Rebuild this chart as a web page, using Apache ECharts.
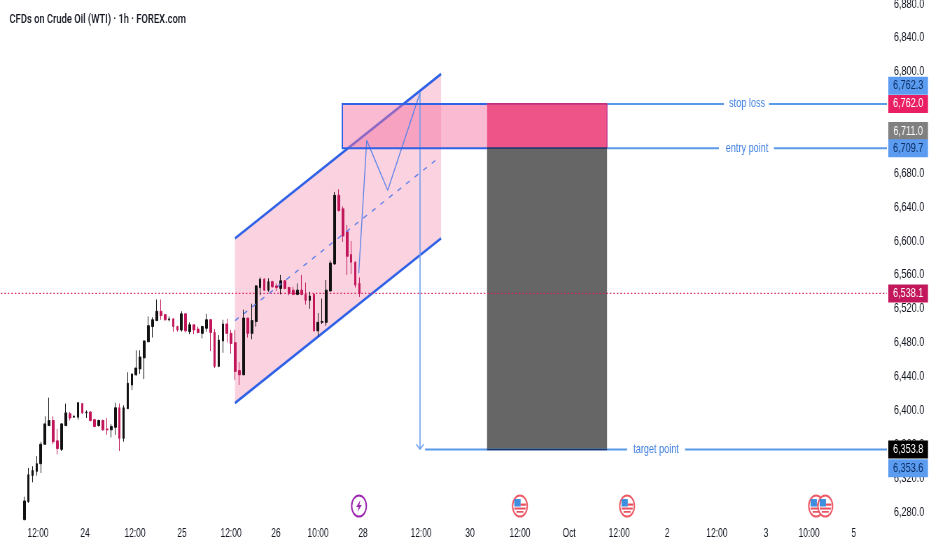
<!DOCTYPE html>
<html><head><meta charset="utf-8">
<style>html,body{margin:0;padding:0;background:#fff;overflow:hidden;width:932px;height:550px}
#c{width:1332px;height:550px;transform:scaleX(0.7);transform-origin:0 0}</style>
<script src="https://cdn.jsdelivr.net/npm/echarts@6/dist/echarts.min.js"></script>
</head><body><div id="c"></div>
<script>
const titleText = 'CFDs on Crude Oil (WTI) · 1h · FOREX.com';
// [open, close, low, high] per hourly candle
const candles = [
[6271,6293,6270,6298],[6292,6324,6291,6332],[6323,6329,6315,6334],[6328,6337,6323,6346],[6337,6360,6326,6363],
[6360,6384,6359,6393],[6382,6388,6382,6415],[6388,6363,6360,6393],[6364,6355,6348,6378],[6354,6384,6352,6385],
[6382,6397,6382,6408],[6396,6391,6388,6398],[6392,6393,6392,6394],[6392,6409,6389,6410],[6408,6397,6396,6408],
[6397,6398,6391,6400],[6398,6388,6387,6399],[6389,6381,6380,6390],[6382,6388,6381,6389],[6388,6377,6376,6389],
[6378,6377,6371,6391],[6377,6381,6368,6384],[6380,6403,6371,6409],[6403,6367,6352,6408],[6367,6403,6363,6406],
[6402,6432,6402,6445],[6430,6443,6424,6443],[6442,6450,6441,6471],[6449,6463,6443,6471],[6462,6482,6437,6482],
[6481,6500,6481,6511],[6499,6507,6486,6510],[6506,6517,6506,6531],[6517,6512,6507,6531],[6513,6507,6506,6514],
[6507,6508,6505,6511],[6508,6499,6493,6509],[6499,6495,6493,6500],[6495,6514,6493,6517],[6514,6494,6492,6515],
[6493,6501,6490,6504],[6501,6495,6490,6501],[6496,6492,6491,6499],[6491,6499,6485,6500],[6497,6507,6493,6514],
[6507,6492,6470,6508],[6492,6452,6450,6496],[6452,6483,6451,6489],[6482,6502,6468,6507],[6502,6491,6480,6508],
[6491,6479,6467,6495],[6480,6446,6436,6495],[6447,6442,6430,6457],[6442,6509,6442,6519],[6509,6491,6486,6509],
[6491,6506,6484,6526],[6505,6547,6499,6548],[6545,6555,6536,6557],[6555,6542,6541,6556],[6542,6552,6540,6556],
[6552,6546,6545,6553],[6547,6545,6541,6550],[6544,6553,6537,6560],[6553,6544,6543,6554],[6545,6538,6536,6546],
[6542,6537,6536,6546],[6537,6542,6536,6550],[6542,6537,6536,6560],[6537,6530,6525,6551],[6530,6535,6520,6540],
[6537,6494,6493,6538],[6494,6504,6487,6515],[6504,6505,6502,6532],[6504,6542,6500,6554],[6541,6574,6541,6577],
[6573,6654,6572,6658],[6654,6636,6635,6661],[6638,6606,6599,6641],[6611,6582,6560,6619],[6584,6575,6561,6600],
[6575,6548,6545,6576],[6550,6538,6534,6557]];
const leadingSlots = 6;     // empty slots left of the first candle
const totalSlots = 215;
const priceTicks = [6280,6320,6360,6400,6440,6480,6520,6560,6600,6640,6680,6720,6760,6800,6840,6880];
const timeSlots  = [9.81,21.18,33.26,44.62,56.47,67.34,77.5,88.37,102.4,114.24,126.3,138.2,150.3,161.9,173.9,185.8,196.2,207];
const timeLabels = ['12:00','24','12:00','25','12:00','26','10:00','28','12:00','30','12:00','Oct','12:00','2','12:00','3','10:00','5'];
const lastPrice = 6538.1;
const channelUpper = [[57.43,6603.2],[107.23,6797.3]];
const channelLower = [[57.43,6408.7],[107.23,6603.2]];
const channelMid   = [[57.43,6506],[106.6,6698]];
const zigzag = [[87.34,6562],[89.27,6719],[94.34,6660],[102.15,6775]];
const arrowShaft = [[102.15,6776],[102.15,6354]];
const arrowHead  = [[101.25,6360],[102.15,6354],[103.05,6360]];
const entryBox = {x0:83.37,x1:118.35,top:6762,bottom:6709.7};
const riskBox  = {x0:118.35,x1:147.35,top:6762,bottom:6709.7};
const rewardBox= {x0:118.35,x1:147.35,top:6709.7,bottom:6353.8};
const stopLine = [[147.35,6762],[175.6,6762]], stopLine2 = [[186.5,6762],[215,6762]];
const entryLine= [[147.35,6709.7],[174.4,6709.7]], entryLine2=[[187.7,6709.7],[215,6709.7]];
const targetLine=[[103.36,6353.8],[152.2,6353.8]], targetLine2=[[166.2,6353.8],[215,6353.8]];
const noteNames = ['stop loss','entry point','target point'];
const noteSlots = [181.2,181.2,159.2];
const notePrices= [6762,6709.7,6353.8];
const tagTexts = ['6,762.3','6,762.0','6,711.0','6,709.7','6,538.1','6,353.8','6,353.6'];
const tagPrices= [6762.3,6762,6711,6709.7,6538.1,6353.8,6353.6];
const tagShifts= [-18,0,-16,0,0,0,18.5];
const tagFills = ['#5b9cf0','#e91e63','#808080','#5b9cf0','#c2185b','#000000','#5b9cf0'];
const tagInks  = ['#0c2f66','#ffffff','#ffffff','#0c2f66','#ffffff','#ffffff','#0c2f66'];
const eventSlots = [87.4,126.3,152.2,197.9,200.1];
const eventKinds = ['bolt','flag','flag','flag','flag'];
const eventPrice = 6287;

const BLUE='#2f62e6', LINE='#5b9ae8', FONT='"Liberation Sans",Arial,sans-serif';
const chart = echarts.init(document.getElementById('c'),null,{renderer:'canvas',width:1332,height:550});
const cats = Array.from({length:totalSlots},(_,i)=>String(i));
const bars = Array.from({length:leadingSlots},()=>'-').concat(candles);
const line=(data,color,width,type,z)=>({type:'line',xAxisIndex:1,yAxisIndex:0,data,symbol:'none',silent:true,clip:false,z:z||6,
  lineStyle:{color,width,type:type||'solid'},animation:false});
const boxItem=(api,b,style)=>{const p=api.coord([b.x0,b.top]),q=api.coord([b.x1,b.bottom]);
  return {type:'rect',shape:{x:p[0],y:p[1],width:q[0]-p[0],height:q[1]-p[1]},style};};
const overlay=(z,renderItem)=>({type:'custom',xAxisIndex:1,yAxisIndex:0,z,clip:false,silent:true,animation:false,data:[[0,0]],renderItem});
const flagIcon=(x,y)=>({type:'group',x,y,children:[
  {type:'circle',shape:{cx:0,cy:0,r:10.5},style:{fill:'#fff',stroke:'#ee5a66',lineWidth:2}},
  {type:'rect',shape:{x:-8,y:-7,width:9,height:7.5},style:{fill:'#3f8fe0'}},
  {type:'rect',shape:{x:1,y:-2.5,width:7.5,height:2.2},style:{fill:'#e8505f'}},
  {type:'rect',shape:{x:-8,y:1.5,width:16,height:2},style:{fill:'#e8505f'}},
  {type:'rect',shape:{x:-5,y:5,width:10,height:1.7},style:{fill:'#e8505f'}}]});
const boltIcon=(x,y)=>({type:'group',x,y,children:[
  {type:'circle',shape:{cx:0,cy:0,r:10.5},style:{fill:'#fff',stroke:'#9c27b0',lineWidth:2}},
  {type:'polygon',shape:{points:[[2,-6],[-4,1],[-0.5,1],[-2,6],[4,-1],[0.5,-1]]},style:{fill:'#9c27b0'}}]});
chart.setOption({
  animation:false,backgroundColor:'#fff',
  title:{text:titleText,left:8.6,top:8,textStyle:{fontFamily:'Roboto',fontSize:13.4,fontWeight:500,color:'#131722'}},
  grid:{left:-3.71,top:0,width:1270.7,height:525,containLabel:false,outerBoundsMode:'none'},
  xAxis:[
    {type:'category',data:cats,boundaryGap:true,axisLine:{show:false},axisTick:{show:false},axisLabel:{show:false},splitLine:{show:false}},
    {type:'value',min:0,max:totalSlots,position:'bottom',axisLine:{show:false},axisTick:{show:false},splitLine:{show:false},
     axisLabel:{customValues:timeSlots,margin:3,color:'#131722',fontFamily:FONT,fontSize:12,hideOverlap:false,
       formatter:v=>timeLabels[timeSlots.indexOf(v)]}}],
  yAxis:{type:'value',position:'right',min:6264.6,max:6884.7,axisLine:{show:false},axisTick:{show:false},splitLine:{show:false},
     axisLabel:{customValues:priceTicks,margin:10,color:'#131722',fontFamily:FONT,fontSize:13,
       formatter:v=>v.toLocaleString('en-US',{minimumFractionDigits:1,maximumFractionDigits:1})}},
  series:[
    overlay(1,(p,api)=>{const pts=[channelUpper[0],channelUpper[1],channelLower[1],channelLower[0]].map(a=>api.coord(a));
      return {type:'polygon',shape:{points:pts},style:{fill:'rgba(244,143,177,0.40)'}};}),
    line(channelUpper,BLUE,2.6,'solid',1.5),line(channelLower,BLUE,2.6,'solid',1.5),
    overlay(2,(p,api)=>({type:'group',children:[
      boxItem(api,entryBox,{fill:'rgba(244,110,160,0.48)'}),
      boxItem(api,riskBox,{fill:'#ef5488'}),
      boxItem(api,rewardBox,{fill:'#666666'})]})),
    {type:'candlestick',xAxisIndex:0,yAxisIndex:0,data:bars,barWidth:3.2,z:3,silent:true,animation:false,
      itemStyle:{color:'#111111',color0:'#c2185b',borderColor:'#111111',borderColor0:'#c2185b',borderWidth:1}},
    line(channelMid,'#5a7ee8',1.4,[6,8]),
    line(zigzag,'#5b84e8',1.4),line(arrowShaft,'#6d9ff0',1.6),line(arrowHead,'#6d9ff0',1.4),
    line([[0,lastPrice],[totalSlots,lastPrice]],'#d81b60',1.2,[2,3],3),
    line(stopLine,LINE,2),line(stopLine2,LINE,2),line(entryLine,LINE,2),line(entryLine2,LINE,2),line(targetLine,LINE,2),line(targetLine2,LINE,2),
    overlay(7,(p,api)=>{const a=api.coord([entryBox.x0,entryBox.top]),b=api.coord([entryBox.x1,entryBox.bottom]),r=api.coord([riskBox.x1,rewardBox.bottom]);
      return {type:'group',children:[
        {type:'polyline',shape:{points:[[b[0],a[1]],[a[0],a[1]],[a[0],b[1]],[b[0],b[1]]]},style:{fill:'none',stroke:BLUE,lineWidth:2}},
        {type:'line',shape:{x1:b[0],y1:a[1],x2:r[0],y2:a[1]},style:{stroke:'#c0307f',lineWidth:1.6}},
        {type:'line',shape:{x1:r[0],y1:a[1],x2:r[0],y2:b[1]},style:{stroke:'#b83090',lineWidth:1.2}},
        {type:'line',shape:{x1:b[0],y1:b[1],x2:r[0],y2:b[1]},style:{stroke:'#253a70',lineWidth:1.6}},
        {type:'line',shape:{x1:b[0],y1:r[1],x2:r[0],y2:r[1]},style:{stroke:'#1f3560',lineWidth:1.6}}]};}),
    overlay(8,(p,api)=>({type:'group',children:noteNames.map((t,i)=>{const c=api.coord([noteSlots[i],notePrices[i]]);
      return {type:'text',x:c[0],y:c[1],style:{text:t,fill:'#3f7fe0',font:'13px '+FONT,textAlign:'center',textVerticalAlign:'middle'}};})})),
    overlay(9,(p,api)=>({type:'group',children:eventSlots.map((s,i)=>{const c=api.coord([s,eventPrice]);
      return eventKinds[i]==='bolt'?boltIcon(c[0],c[1]):flagIcon(c[0],c[1]);})})),
    overlay(10,(p,api)=>({type:'group',children:tagTexts.flatMap((t,i)=>{const y=api.coord([0,tagPrices[i]])[1]+tagShifts[i];
      return [{type:'rect',shape:{x:1269,y:y-9,width:56.7,height:18},style:{fill:tagFills[i]}},
        {type:'text',x:1297.4,y,style:{text:t,fill:tagInks[i],font:'13px '+FONT,textAlign:'center',textVerticalAlign:'middle'}}];})}))
  ]
});
</script></body></html>
